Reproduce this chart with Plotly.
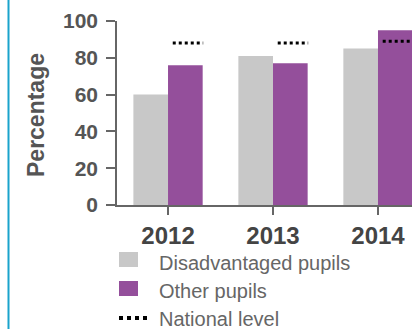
import plotly.graph_objects as go

years = ["2012", "2013", "2014"]
disadvantaged = [60, 81, 85]
other_pupils = [76, 77, 95]
national_level = [88, 88, 89]
legend_labels = ["Disadvantaged pupils", "Other pupils", "National level"]

GRAY = "#c8c8c8"
PURPLE = "#944f9b"
W, H = 412, 329
ML, MR, MT, MB = 117, 0, 21, 124
PW, PH = W - ML - MR, H - MT - MB


def px_x(px):
    return (px - ML) / PW


def px_y(py):
    return (H - MB - py) / PH


idx = list(range(len(years)))

fig = go.Figure()
fig.add_trace(go.Bar(x=idx, y=disadvantaged, name=legend_labels[0],
                     marker=dict(color=GRAY, line=dict(width=0)), showlegend=False))
fig.add_trace(go.Bar(x=idx, y=other_pupils, name=legend_labels[1],
                     marker=dict(color=PURPLE, line=dict(width=0)), showlegend=False))

# national level dotted segments above the "other pupils" bar
nx, ny = [], []
for i, v in zip(idx, national_level):
    nx += [i + 0.045, i + 0.335, None]
    ny += [v, v, None]
fig.add_trace(go.Scatter(x=nx, y=ny, mode="lines", name=legend_labels[2],
                         line=dict(color="black", width=3, dash="dot"),
                         showlegend=False, cliponaxis=False))

shapes = [
    # left blue border
    dict(type="line", xref="paper", yref="paper", x0=px_x(8.5), x1=px_x(8.5),
         y0=px_y(0), y1=px_y(H), line=dict(color="#1aa3cc", width=2)),
    # legend swatches
    dict(type="rect", xref="paper", yref="paper", x0=px_x(119), x1=px_x(138),
         y0=px_y(252), y1=px_y(267), fillcolor=GRAY, line=dict(width=0)),
    dict(type="rect", xref="paper", yref="paper", x0=px_x(119), x1=px_x(138),
         y0=px_y(281), y1=px_y(296), fillcolor=PURPLE, line=dict(width=0)),
    dict(type="line", xref="paper", yref="paper", x0=px_x(119), x1=px_x(149),
         y0=px_y(318), y1=px_y(318), line=dict(color="black", width=4, dash="4px,4px")),
]

annotations = []
for label, py in zip(legend_labels, [263, 291, 319]):
    annotations.append(dict(text=label, xref="paper", yref="paper", x=px_x(157), y=px_y(py),
                            xanchor="left", yanchor="middle", showarrow=False,
                            font=dict(family="Liberation Sans, Arial", size=20, color="#666666")))
annotations.append(dict(text="<b>Percentage</b>", xref="paper", yref="paper",
                        x=px_x(36), y=px_y(115), xanchor="center", yanchor="middle",
                        textangle=-90, showarrow=False,
                        font=dict(family="Liberation Sans, Arial", size=23, color="#555555")))

fig.update_layout(
    width=W, height=H,
    margin=dict(l=ML, r=MR, t=MT, b=MB, pad=0),
    paper_bgcolor="white", plot_bgcolor="white",
    barmode="group", bargap=0.34, bargroupgap=0,
    showlegend=False,
    shapes=shapes, annotations=annotations,
    xaxis=dict(range=[-0.486, 2.324], tickvals=idx, ticktext=years,
               showgrid=False, zeroline=False, showline=True, linecolor="#666666", linewidth=1.5,
               ticks="outside", ticklen=8, tickwidth=1.5, tickcolor="#666666",
               tickfont=dict(family="Liberation Sans, Arial", size=24, color="#444444", weight="bold")),
    yaxis=dict(range=[0, 100], tickvals=[0, 20, 40, 60, 80, 100],
               showgrid=False, zeroline=False, showline=True, linecolor="#666666", linewidth=1.5,
               ticks="outside", ticklen=9, tickwidth=1.5, tickcolor="#666666",
               ticklabelstandoff=4,
               tickfont=dict(family="Liberation Sans, Arial", size=21, color="#555555", weight="bold")),
)

fig.write_html("out.html", config={"displayModeBar": False},
               post_script="document.body.style.margin='0';document.body.style.overflow='hidden';")
